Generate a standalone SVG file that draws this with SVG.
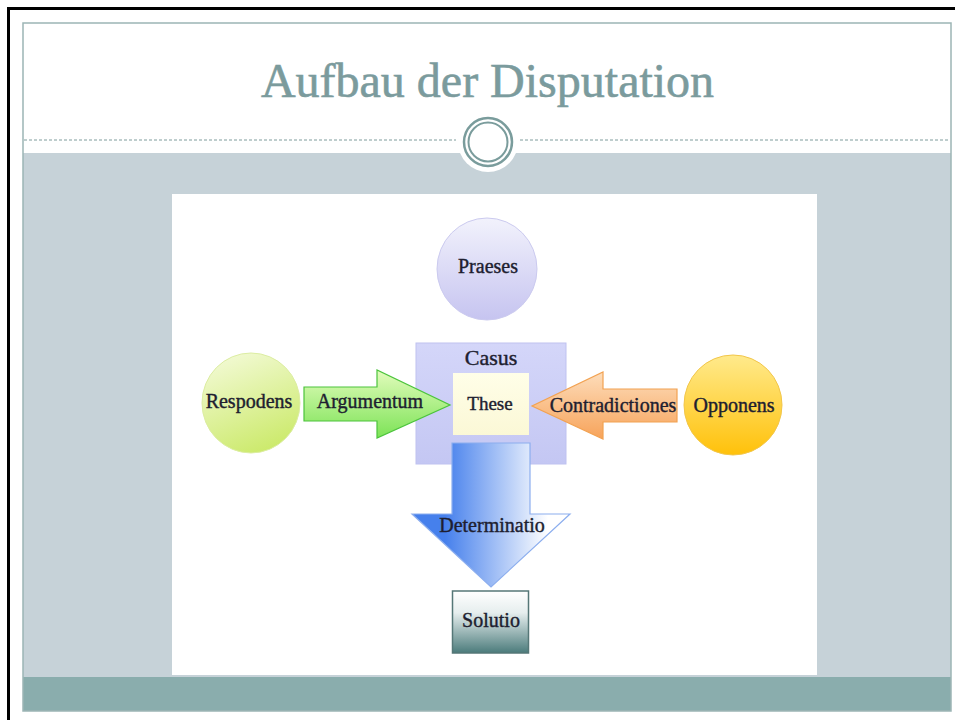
<svg xmlns="http://www.w3.org/2000/svg" width="955" height="720" viewBox="0 0 955 720">
  <style>
    .lbl { font-family: "Liberation Serif", "Times New Roman", serif; font-size: 20px; fill: #1E1E30; stroke: #1E1E30; stroke-width: 0.4; text-anchor: middle; }
    .title { font-family: "Liberation Serif", "Times New Roman", serif; font-size: 48px; fill: #7B9B9D; stroke: #7B9B9D; stroke-width: 0.6; text-anchor: middle; }
  </style>
  <defs>
    <linearGradient id="gPraeses" x1="0" y1="0" x2="0" y2="1">
      <stop offset="0" stop-color="#F2F2FC"/>
      <stop offset="1" stop-color="#C6C4F0"/>
    </linearGradient>
    <linearGradient id="gResp" x1="0.2" y1="0" x2="0.6" y2="1">
      <stop offset="0" stop-color="#F3FAD6"/>
      <stop offset="1" stop-color="#CCEA6C"/>
    </linearGradient>
    <linearGradient id="gOpp" x1="0" y1="0" x2="0" y2="1">
      <stop offset="0" stop-color="#FFEA8C"/>
      <stop offset="1" stop-color="#FFC10A"/>
    </linearGradient>
    <linearGradient id="gCasus" x1="0" y1="0" x2="0" y2="1">
      <stop offset="0" stop-color="#D4D6F9"/>
      <stop offset="1" stop-color="#C4C7F3"/>
    </linearGradient>
    <linearGradient id="gThese" x1="0" y1="0" x2="0" y2="1">
      <stop offset="0" stop-color="#FFFEE8"/>
      <stop offset="1" stop-color="#FBF8D6"/>
    </linearGradient>
    <linearGradient id="gArg" x1="0" y1="0" x2="0" y2="1">
      <stop offset="0" stop-color="#E2FCBC"/>
      <stop offset="1" stop-color="#7CE356"/>
    </linearGradient>
    <linearGradient id="gContra" x1="0" y1="0" x2="0" y2="1">
      <stop offset="0" stop-color="#FDDDBB"/>
      <stop offset="1" stop-color="#F7A35A"/>
    </linearGradient>
    <linearGradient id="gDet" gradientUnits="userSpaceOnUse" x1="445" y1="0" x2="548" y2="0">
      <stop offset="0" stop-color="#4680EC"/>
      <stop offset="1" stop-color="#FFFFFF"/>
    </linearGradient>
    <linearGradient id="gSol" x1="0" y1="0" x2="0" y2="1">
      <stop offset="0" stop-color="#FFFFFF"/>
      <stop offset="0.35" stop-color="#E6EEEE"/>
      <stop offset="1" stop-color="#4B7B7B"/>
    </linearGradient>
  </defs>

  <!-- slide background and frames -->
  <rect x="0" y="0" width="955" height="720" fill="#FFFFFF"/>
  <rect x="8.5" y="8.5" width="960" height="730" fill="none" stroke="#000000" stroke-width="3"/>
  <rect x="23" y="153" width="928" height="524" fill="#C6D2D8"/>
  <rect x="23" y="677" width="928" height="34" fill="#8AADAD"/>
  <rect x="23" y="23" width="928" height="688" fill="none" stroke="#9CB5B5" stroke-width="1.5"/>
  <line x1="24" y1="140" x2="456" y2="140" stroke="#7F9C9C" stroke-width="1" stroke-dasharray="3 2"/>
  <line x1="520" y1="140" x2="950" y2="140" stroke="#7F9C9C" stroke-width="1" stroke-dasharray="3 2"/>
  <circle cx="488" cy="142" r="30" fill="#FFFFFF"/>
  <circle cx="488" cy="142" r="24" fill="none" stroke="#7A9C9C" stroke-width="2.5"/>
  <circle cx="488" cy="142" r="19.5" fill="none" stroke="#7A9C9C" stroke-width="2"/>
  <text class="title" x="487.5" y="97">Aufbau der Disputation</text>

  <!-- picture area -->
  <rect x="172" y="194" width="645" height="481" fill="#FFFFFF"/>

  <g id="casus">
    <rect x="416" y="343" width="150" height="121" fill="url(#gCasus)" stroke="#BFC2F0" stroke-width="1"/>
    <text class="lbl" x="491" y="365" style="font-size:22px">Casus</text>
  </g>

  <g id="these">
    <rect x="453" y="373" width="76" height="62" fill="url(#gThese)"/>
    <text class="lbl" x="490" y="410" style="font-size:19px">These</text>
  </g>

  <g id="praeses">
    <ellipse cx="487" cy="269" rx="50" ry="51" fill="url(#gPraeses)" stroke="#CBCAEF" stroke-width="1"/>
    <text class="lbl" x="488" y="273">Praeses</text>
  </g>

  <g id="respodens">
    <ellipse cx="251" cy="403" rx="49" ry="50" fill="url(#gResp)" stroke="#DCEDA2" stroke-width="1"/>
    <text class="lbl" x="249" y="408">Respodens</text>
  </g>

  <g id="opponens">
    <ellipse cx="733" cy="405" rx="49" ry="50" fill="url(#gOpp)" stroke="#F2C64A" stroke-width="1"/>
    <text class="lbl" x="734" y="412">Opponens</text>
  </g>

  <g id="solutio">
    <rect x="452.5" y="591" width="76" height="62" fill="url(#gSol)" stroke="#557777" stroke-width="1.5"/>
    <text class="lbl" x="491" y="627">Solutio</text>
  </g>

  <g id="connectors">
    <g id="argumentum">
      <path d="M304,387 L377,387 L377,370 L450,405 L377,438 L377,421 L304,421 Z" fill="url(#gArg)" stroke="#4CC43C" stroke-width="1.2"/>
      <text class="lbl" x="370" y="408">Argumentum</text>
    </g>
    <g id="contradictiones">
      <path d="M677,389 L603,389 L603,372 L532,406 L603,439 L603,422 L677,422 Z" fill="url(#gContra)" stroke="#F2A252" stroke-width="1.2"/>
      <text class="lbl" x="613" y="412">Contradictiones</text>
    </g>
    <g id="determinatio">
      <path d="M452,443 L530,443 L530,514 L570,514 L491,587 L412,514 L452,514 Z" fill="url(#gDet)" stroke="#8CAEEE" stroke-width="1.2"/>
      <text class="lbl" x="492" y="532">Determinatio</text>
    </g>
  </g>
</svg>
